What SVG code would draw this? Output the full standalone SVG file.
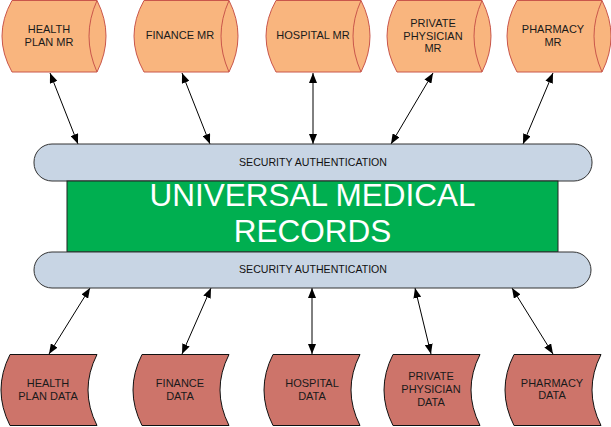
<svg xmlns="http://www.w3.org/2000/svg" width="611" height="427" viewBox="0 0 611 427">
<style>
.cyl{fill:#F9B57E;stroke:#C9564B;stroke-width:1}
.inner{fill:none;stroke:#C9564B;stroke-width:1}
.data{fill:#CD746A;stroke:#111;stroke-width:1}
.lbl{font-family:"Liberation Sans",Arial,sans-serif;font-size:11px;fill:#1a1a1a;text-anchor:middle}
.bar{fill:#C8D5E4;stroke:#333;stroke-width:1}
.sec{font-family:"Liberation Sans",Arial,sans-serif;font-size:10.6px;fill:#111;text-anchor:middle}
.core{fill:#00AF50;stroke:#222;stroke-width:1}
.big{font-family:"Liberation Sans",Arial,sans-serif;font-size:31.5px;fill:#fff;text-anchor:middle}
.con{stroke:#000;stroke-width:1;fill:none;marker-start:url(#ah);marker-end:url(#ah)}
</style>
<defs>
<marker id="ah" viewBox="0 0 10 8" refX="10" refY="4" markerWidth="10" markerHeight="8" markerUnits="userSpaceOnUse" orient="auto-start-reverse">
<path d="M0,0 L10,4 L0,8 Z" fill="#000"/>
</marker>
<path id="cylShape" d="M11,0.5 H96 Q114,36 96,72 H11 Q-9,36 11,0.5 Z"/>
<path id="cylInner" d="M96,0.5 Q80,36 96,72"/>
<path id="dataShape" d="M9,0.5 H96 Q78,36 96,71.5 H9 Q-9,36 9,0.5 Z"/>
</defs>

<g id="connectors">
<line class="con" x1="50" y1="73" x2="78" y2="144"/>
<line class="con" x1="182" y1="73" x2="210" y2="144"/>
<line class="con" x1="313" y1="73" x2="313" y2="144"/>
<line class="con" x1="433" y1="73" x2="391" y2="144"/>
<line class="con" x1="553" y1="73" x2="523" y2="144"/>
<line class="con" x1="90" y1="288" x2="49" y2="354"/>
<line class="con" x1="211" y1="288" x2="182" y2="354"/>
<line class="con" x1="312" y1="288" x2="312" y2="354"/>
<line class="con" x1="415" y1="288" x2="431" y2="354"/>
<line class="con" x1="512" y1="288" x2="553" y2="354"/>
</g>

<g id="health-plan-mr" transform="translate(1,0)">
<use href="#cylShape" class="cyl"/><use href="#cylInner" class="inner"/>
<text class="lbl" x="48" y="33">HEALTH</text><text class="lbl" x="48" y="46">PLAN MR</text>
</g>
<g id="finance-mr" transform="translate(133,0)">
<use href="#cylShape" class="cyl"/><use href="#cylInner" class="inner"/>
<text class="lbl" x="47" y="39">FINANCE MR</text>
</g>
<g id="hospital-mr" transform="translate(265,0)">
<use href="#cylShape" class="cyl"/><use href="#cylInner" class="inner"/>
<text class="lbl" x="48" y="39">HOSPITAL MR</text>
</g>
<g id="private-physician-mr" transform="translate(386,0)">
<use href="#cylShape" class="cyl"/><use href="#cylInner" class="inner"/>
<text class="lbl" x="47" y="27">PRIVATE</text><text class="lbl" x="47" y="39.5">PHYSICIAN</text><text class="lbl" x="47" y="52">MR</text>
</g>
<g id="pharmacy-mr" transform="translate(506,0)">
<use href="#cylShape" class="cyl"/><use href="#cylInner" class="inner"/>
<text class="lbl" x="47" y="33">PHARMACY</text><text class="lbl" x="47" y="46">MR</text>
</g>

<g id="security-top">
<rect class="bar" x="34" y="144" width="558" height="37" rx="18" ry="18"/>
<text class="sec" x="313" y="166">SECURITY AUTHENTICATION</text>
</g>
<g id="universal-medical-records">
<rect class="core" x="67" y="181" width="491" height="71"/>
<text class="big" x="312.5" y="206">UNIVERSAL MEDICAL</text>
<text class="big" x="312.5" y="242">RECORDS</text>
</g>
<g id="security-bottom">
<rect class="bar" x="34" y="252" width="557" height="36" rx="18" ry="18"/>
<text class="sec" x="313" y="273">SECURITY AUTHENTICATION</text>
</g>

<g id="health-plan-data" transform="translate(1,354)">
<use href="#dataShape" class="data"/>
<text class="lbl" x="47" y="33">HEALTH</text><text class="lbl" x="47" y="46">PLAN DATA</text>
</g>
<g id="finance-data" transform="translate(133,354)">
<use href="#dataShape" class="data"/>
<text class="lbl" x="47" y="33">FINANCE</text><text class="lbl" x="47" y="46">DATA</text>
</g>
<g id="hospital-data" transform="translate(264,354)">
<use href="#dataShape" class="data"/>
<text class="lbl" x="48" y="33">HOSPITAL</text><text class="lbl" x="48" y="46">DATA</text>
</g>
<g id="private-physician-data" transform="translate(384,354)">
<use href="#dataShape" class="data"/>
<text class="lbl" x="47" y="26">PRIVATE</text><text class="lbl" x="47" y="39">PHYSICIAN</text><text class="lbl" x="47" y="52">DATA</text>
</g>
<g id="pharmacy-data" transform="translate(505,354)">
<use href="#dataShape" class="data"/>
<text class="lbl" x="47" y="33">PHARMACY</text><text class="lbl" x="47" y="45">DATA</text>
</g>
</svg>
